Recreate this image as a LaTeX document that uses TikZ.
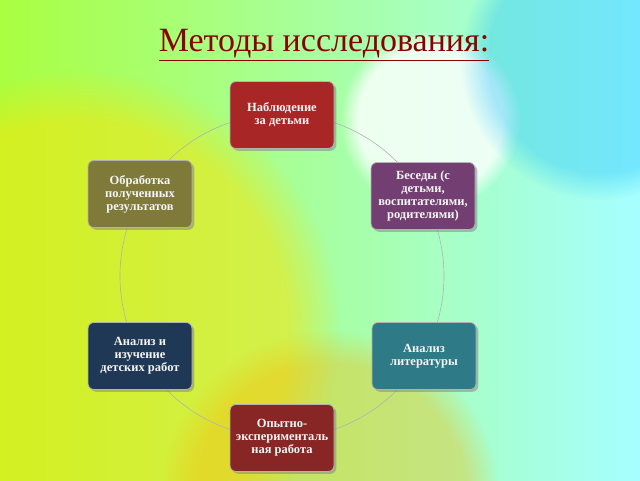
\documentclass[tikz,border=0pt]{standalone}
\usepackage{fontspec}
\setmainfont{Liberation Serif}
\usetikzlibrary{shadows,fadings}
\definecolor{cteal}{HTML}{2E7A86}
\definecolor{cnavy}{HTML}{1F3856}
\begin{document}
\begin{tikzpicture}[x=1pt,y=-1pt,
  box/.style={draw=white!70!black,line width=0.8pt,rounded corners=6pt,minimum width=104pt,minimum height=67pt,
    align=center,font=\bfseries\fontsize{12.5}{13}\selectfont,text=white!92!gray,drop shadow}]
\useasboundingbox (0,0) rectangle (640,480);
\shade[left color=green!45!yellow!75!white,right color=cyan!35!white] (0,0) rectangle (640,480);
\fill[yellow!85!orange,path fading=circle with fuzzy edge 20 percent,fill opacity=0.5] (80,330) circle (260);
\fill[white,path fading=circle with fuzzy edge 20 percent,fill opacity=0.8] (430,120) circle (90);
\fill[orange!60!yellow,path fading=circle with fuzzy edge 20 percent,fill opacity=0.35] (330,500) circle (170);
\fill[blue!30!cyan,path fading=circle with fuzzy edge 20 percent,fill opacity=0.3] (600,60) circle (140);
\draw[gray!60!white,line width=0.6pt] (282,276) circle (162);
\node[font=\fontsize{34}{36}\selectfont,text=red!55!black] (t) at (324,45) {\underline{Методы исследования:}};
\node[box,fill=red!60!black!85!white] (a) at (282,115) {Наблюдение\\за детьми};
\node[box,fill=violet!45!gray!90!black] (b) at (423,196) {Беседы (с\\детьми,\\воспитателями,\\родителями)};
\node[box,fill=cteal] (c) at (424,356) {Анализ\\литературы};
\node[box,fill=red!45!black!85!white] (d) at (282,438) {Опытно-\\эксперименталь\\ная работа};
\node[box,fill=cnavy] (e) at (140,356) {Анализ и\\изучение\\детских работ};
\node[box,fill=olive!65!black!85!white] (f) at (140,194) {Обработка\\полученных\\результатов};
\end{tikzpicture}
\end{document}
